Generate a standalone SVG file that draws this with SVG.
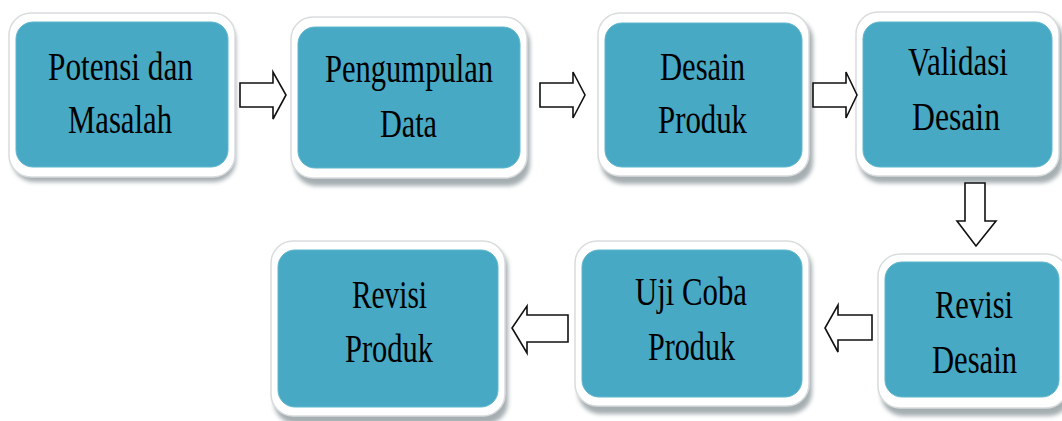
<svg xmlns="http://www.w3.org/2000/svg" width="1062" height="421" viewBox="0 0 1062 421">
<style>
.shadow{fill:#8f9a9e;opacity:0.8;filter:url(#blur)}
.outer{fill:#ffffff;stroke:#d9dcdd;stroke-width:1.5}
.inner{fill:#47a9c4;stroke:#5fb6cd;stroke-width:1}
.lbl{font-family:"Liberation Serif","Times New Roman",serif;font-size:39px;fill:#000;text-anchor:middle}
.arr{fill:#ffffff;stroke:#111;stroke-width:1.6;stroke-linejoin:miter}
</style>
<defs>
<filter id="blur" x="-10%" y="-10%" width="120%" height="130%"><feGaussianBlur stdDeviation="2"/></filter>
</defs>
<rect width="1062" height="421" fill="#ffffff"/>
<g id="node-potensi">
<rect class="shadow" x="12" y="18" width="224" height="164" rx="22"/>
<rect class="outer" x="9" y="13" width="226" height="164" rx="22"/>
<rect class="inner" x="16" y="22" width="212" height="145" rx="17"/>
<text class="lbl" x="120.5" y="80" textLength="145" lengthAdjust="spacingAndGlyphs">Potensi dan</text>
<text class="lbl" x="120" y="133" textLength="104" lengthAdjust="spacingAndGlyphs">Masalah</text>
</g>
<g id="node-pengumpulan">
<rect class="shadow" x="294" y="22" width="236" height="164" rx="22"/>
<rect class="outer" x="291" y="17" width="236" height="161" rx="22"/>
<rect class="inner" x="298" y="27" width="222" height="141" rx="17"/>
<text class="lbl" x="409" y="82" textLength="168" lengthAdjust="spacingAndGlyphs">Pengumpulan</text>
<text class="lbl" x="408.5" y="137" textLength="57" lengthAdjust="spacingAndGlyphs">Data</text>
</g>
<g id="node-desain-produk">
<rect class="shadow" x="601" y="18" width="212" height="166" rx="22"/>
<rect class="outer" x="598" y="13" width="211" height="163" rx="22"/>
<rect class="inner" x="605" y="23" width="197" height="144" rx="17"/>
<text class="lbl" x="702.5" y="80" textLength="85" lengthAdjust="spacingAndGlyphs">Desain</text>
<text class="lbl" x="702.5" y="133" textLength="89" lengthAdjust="spacingAndGlyphs">Produk</text>
</g>
<g id="node-validasi">
<rect class="shadow" x="859" y="17" width="204" height="166" rx="22"/>
<rect class="outer" x="856" y="12" width="203" height="164" rx="22"/>
<rect class="inner" x="863" y="22" width="189" height="145" rx="17"/>
<text class="lbl" x="958" y="75" textLength="100" lengthAdjust="spacingAndGlyphs">Validasi</text>
<text class="lbl" x="956" y="130" textLength="88" lengthAdjust="spacingAndGlyphs">Desain</text>
</g>
<g id="node-revisi-desain">
<rect class="shadow" x="881" y="258" width="190" height="158" rx="22"/>
<rect class="outer" x="878" y="254" width="190" height="154" rx="22"/>
<rect class="inner" x="885" y="262" width="174" height="135" rx="17"/>
<text class="lbl" x="974" y="318" textLength="78" lengthAdjust="spacingAndGlyphs">Revisi</text>
<text class="lbl" x="974.5" y="373" textLength="85" lengthAdjust="spacingAndGlyphs">Desain</text>
</g>
<g id="node-uji-coba">
<rect class="shadow" x="578" y="246" width="234" height="168" rx="22"/>
<rect class="outer" x="575" y="241" width="234" height="165" rx="22"/>
<rect class="inner" x="582" y="250" width="220" height="147" rx="17"/>
<text class="lbl" x="691" y="305" textLength="112" lengthAdjust="spacingAndGlyphs">Uji Coba</text>
<text class="lbl" x="691.5" y="360" textLength="87" lengthAdjust="spacingAndGlyphs">Produk</text>
</g>
<g id="node-revisi-produk">
<rect class="shadow" x="274" y="246" width="234" height="178" rx="22"/>
<rect class="outer" x="271" y="241" width="234" height="175" rx="22"/>
<rect class="inner" x="278" y="250" width="220" height="157" rx="17"/>
<text class="lbl" x="389.5" y="308" textLength="75" lengthAdjust="spacingAndGlyphs">Revisi</text>
<text class="lbl" x="389" y="362" textLength="88" lengthAdjust="spacingAndGlyphs">Produk</text>
</g>
<g id="connectors">
<polygon class="arr" points="240,83 273,83 273,72 286,95 273,119 273,107 240,107"/>
<polygon class="arr" points="540,83 573,83 573,72 585,95 573,118 573,107 540,107"/>
<polygon class="arr" points="813,83 846,83 846,72 857,95 846,118 846,107 813,107"/>
<polygon class="arr" points="965,183 985,183 985,221 996,221 976,246 957,221 965,221"/>
<polygon class="arr" points="872,315 838,315 838,305 825,328 838,352 838,340 872,340"/>
<polygon class="arr" points="568,315 527,315 527,306 512,328 527,353 527,342 568,342"/>
</g>
</svg>
